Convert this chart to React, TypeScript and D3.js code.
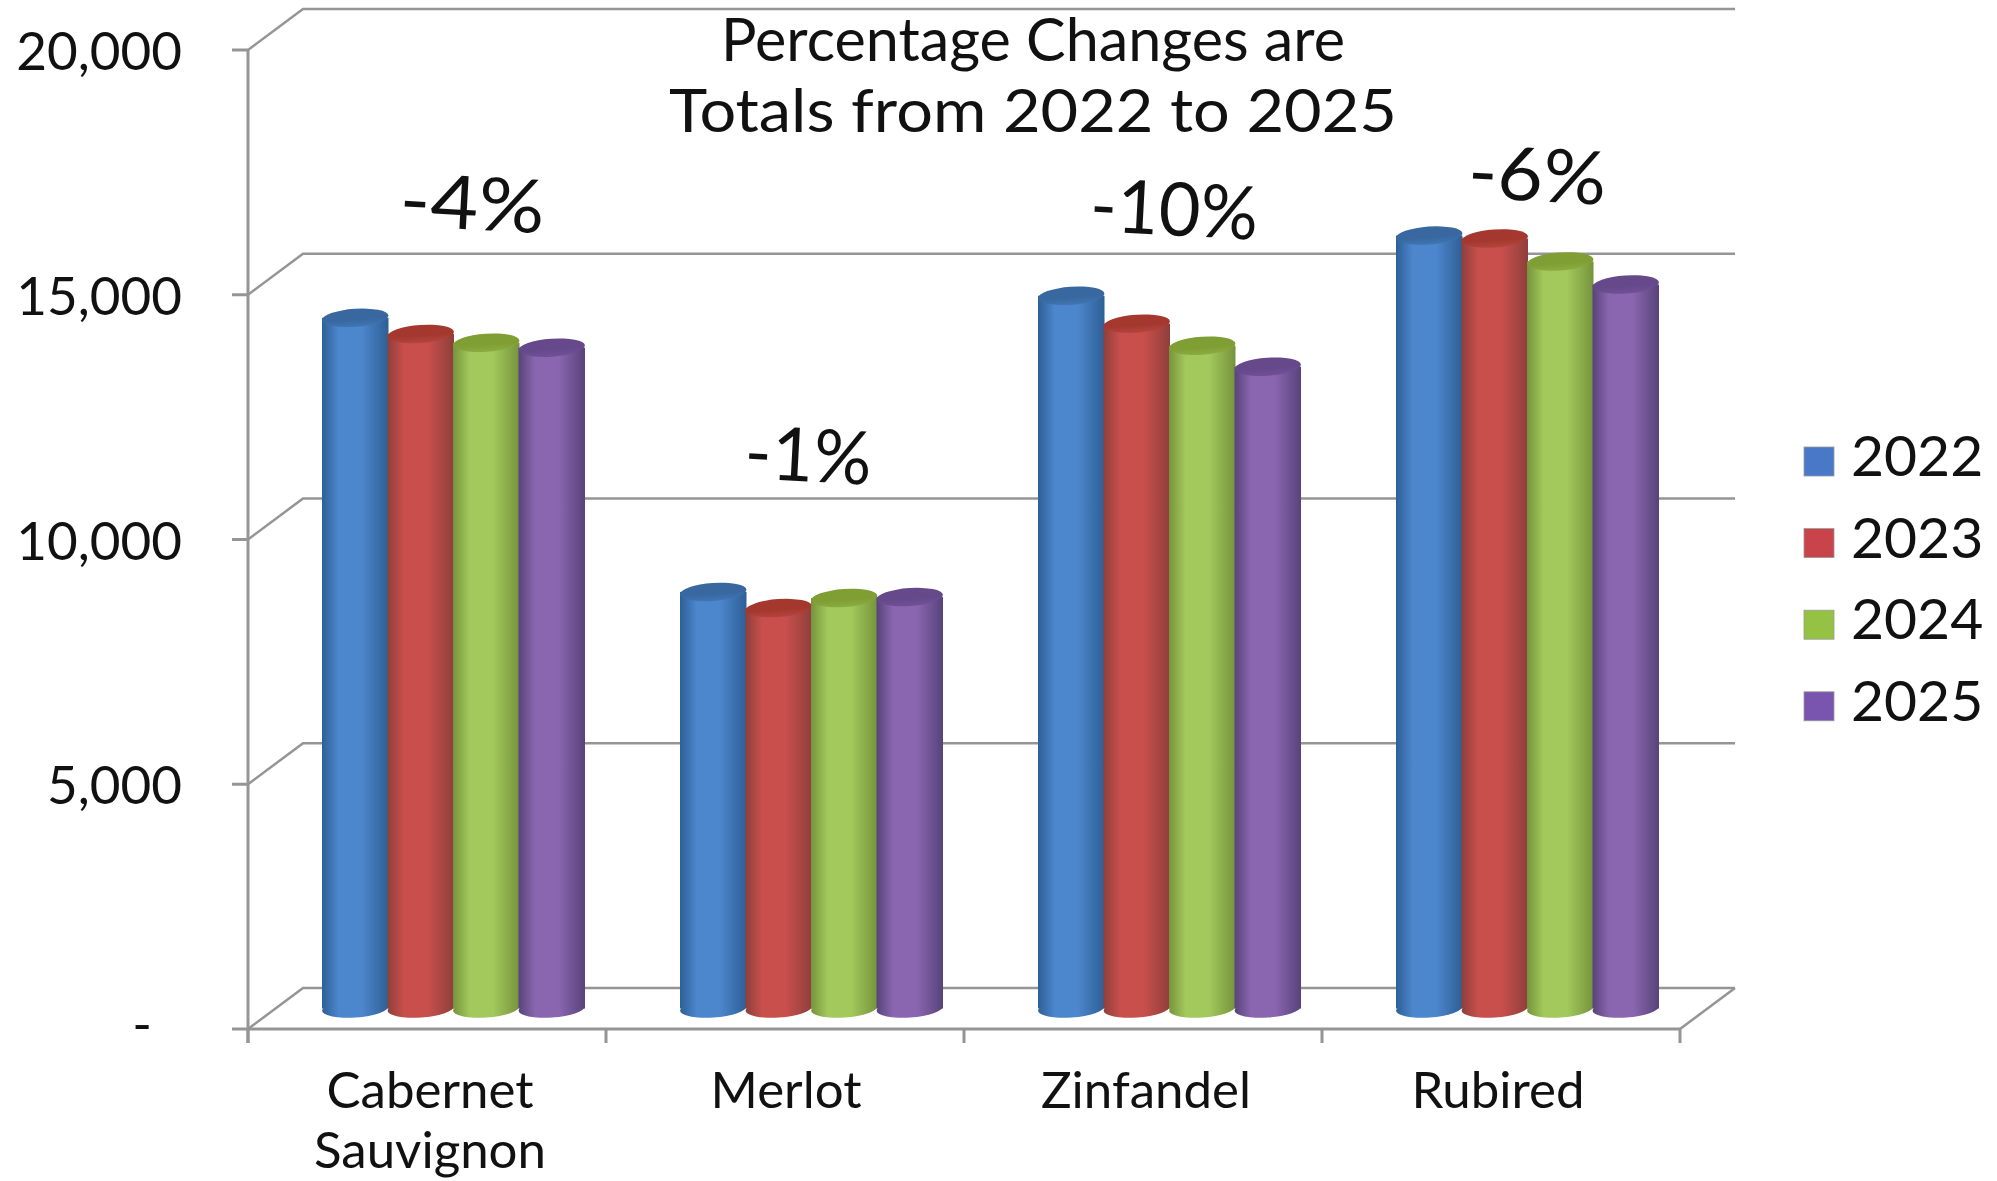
import React from "react";
import * as d3 from "d3";

// Grape varieties and harvest years plotted as grouped cylinders
const categories = ["Cabernet Sauvignon", "Merlot", "Zinfandel", "Rubired"];
const years = ["2022", "2023", "2024", "2025"];
const values2022 = [14110, 8510, 14560, 15790];
const values2023 = [13780, 8180, 13990, 15730];
const values2024 = [13600, 8385, 13540, 15260];
const values2025 = [13500, 8405, 13110, 14790];
const seriesValues = [values2022, values2023, values2024, values2025];
const changeLabels = ["-4%", "-1%", "-10%", "-6%"];
const titleLines = ["Percentage Changes are", "Totals from 2022 to 2025"];
const yTicks = [0, 5000, 10000, 15000, 20000];

// Shades per year: edge of the cylinder, its lit middle, the top cap, the legend swatch
const edgeColors = ["#2e5f96", "#8e3f3b", "#76933c", "#57437a"];
const midColors = ["#4c86cc", "#c94f4c", "#a3c95c", "#8b66b0"];
const capColors = ["#38689f", "#a4382f", "#7f9e34", "#66498b"];
const capLowColors = ["#3f76b4", "#b5453d", "#8cac42", "#714f98"];
const swatchColors = ["#4a78c8", "#c8444a", "#96c244", "#7a55b0"];

const width = 1997;
const height = 1181;
const depthX = 55;
const depthY = 41;
const axisColor = "#959595";
const font = "Lato, 'Open Sans', sans-serif";
const ink = "#111";

const y = d3.scaleLinear().domain([0, 20000]).range([1029, 50]);
const x = d3.scaleBand().domain(categories).range([248, 1680]);
const inner = d3.scaleBand().domain(years).range([-131, 131]);
const tickFormat = (v: number) => (v === 0 ? "-" : d3.format(",")(v));

const ry = 9;
const tilt = -4;

function Cylinder({ cx, top, base, w, i }: { cx: number; top: number; base: number; w: number; i: number }) {
  const rx = w / 2;
  return (
    <g>
      <ellipse cx={cx} cy={base} rx={rx} ry={ry} fill={`url(#side${i})`} transform={`rotate(${tilt} ${cx} ${base})`} />
      <rect x={cx - rx} y={top} width={w} height={base - top} fill={`url(#side${i})`} />
      <ellipse cx={cx} cy={top} rx={rx} ry={ry} fill={`url(#cap${i})`} transform={`rotate(${tilt} ${cx} ${top})`} />
    </g>
  );
}

export default function App() {
  const step = x.step();
  const barW = inner.bandwidth() + 1;
  const floorMid = { dx: depthX / 2 - 1, dy: -depthY / 2 };
  return (
    <svg
      width={width}
      height={height}
      viewBox={`0 0 ${width} ${height}`}
      style={{ position: "absolute", left: 0, top: 0, background: "#fff" }}
    >
      <defs>
        {years.map((yr, i) => (
          <linearGradient key={yr} id={`side${i}`} x1="0" x2="1" y1="0" y2="0">
            <stop offset="0" stopColor={edgeColors[i]} />
            <stop offset="0.25" stopColor={midColors[i]} />
            <stop offset="0.6" stopColor={midColors[i]} />
            <stop offset="1" stopColor={edgeColors[i]} />
          </linearGradient>
        ))}
        {years.map((yr, i) => (
          <linearGradient key={yr} id={`cap${i}`} x1="0" x2="0" y1="0" y2="1">
            <stop offset="0" stopColor={capColors[i]} />
            <stop offset="0.6" stopColor={capColors[i]} />
            <stop offset="1" stopColor={capLowColors[i]} />
          </linearGradient>
        ))}
      </defs>

      {/* Back wall gridlines, each joined to the value axis by a depth segment */}
      {yTicks.map((t) => (
        <g key={t} fill="none" stroke={axisColor} strokeWidth={2.5}>
          <polyline
            points={`${x.range()[0]},${y(t)} ${x.range()[0] + depthX},${y(t) - depthY} ${x.range()[1] + depthX},${y(t) - depthY}`}
          />
          <line x1={x.range()[0] - 16} x2={x.range()[0]} y1={y(t)} y2={y(t)} strokeWidth={3} />
        </g>
      ))}
      <line x1={x.range()[1]} y1={y(0)} x2={x.range()[1] + depthX} y2={y(0) - depthY} stroke={axisColor} strokeWidth={2.5} />

      {/* Front axes */}
      <line x1={248} x2={248} y1={y(20000)} y2={1043} stroke={axisColor} strokeWidth={3} />
      <line x1={x.range()[0]} x2={x.range()[1]} y1={y(0)} y2={y(0)} stroke={axisColor} strokeWidth={3} />
      {[...categories.map((c) => x(c) as number), x.range()[1]].map((px) => (
        <line key={px} x1={px} x2={px} y1={y(0)} y2={1043} stroke={axisColor} strokeWidth={3} />
      ))}

      {/* Cylinders, drawn left to right so each one overlaps its neighbour */}
      {categories.map((c, ci) =>
        years.map((yr, si) => {
          const cx = (x(c) as number) + step / 2 + floorMid.dx + (inner(yr) as number) + inner.bandwidth() / 2;
          return (
            <Cylinder
              key={c + yr}
              cx={cx}
              top={y(seriesValues[si][ci]) + floorMid.dy}
              base={y(0) + floorMid.dy}
              w={barW}
              i={si}
            />
          );
        })
      )}

      {/* Value axis labels */}
      {yTicks.map((t) => (
        <text
          key={t}
          x={t === 0 ? 152 : 182}
          y={t === 0 ? y(t) + 14 : y(t) + 20}
          textAnchor="end"
          fontFamily={font}
          fontSize={53}
          fill={ink}
        >
          {tickFormat(t)}
        </text>
      ))}

      {/* Category labels, wrapped to two lines where needed */}
      {categories.map((c, ci) => {
        const cx = (x(c) as number) + step / 2 + 3 + [0, -2, 0, -6][ci];
        return c.split(" ").map((word, k) => (
          <text key={word} x={cx} y={1108 + k * 60} textAnchor="middle" fontFamily={font} fontSize={51} fill={ink}>
            {word}
          </text>
        ));
      })}

      {/* Heading */}
      {titleLines.map((line, k) => (
        <text
          key={line}
          x={1033}
          y={61 + k * 71}
          textAnchor="middle"
          fontFamily={font}
          fontSize={60}
          fill={ink}
          textLength={[624, 728][k]}
          lengthAdjust="spacingAndGlyphs"
        >
          {line}
        </text>
      ))}

      {/* Percentage change above each group */}
      {categories.map((c, ci) => {
        const cx = (x(c) as number) + step / 2 + [44, 22, 30, 35][ci];
        const base = y(d3.max(seriesValues, (s) => s[ci]) as number) - [109, 131, 81, 55][ci];
        return (
          <text
            key={c}
            x={cx}
            y={base}
            textAnchor="middle"
            fontFamily={font}
            fontSize={74}
            fill={ink}
            textLength={[145, 127, 168, 138][ci]}
            lengthAdjust="spacingAndGlyphs"
            transform={`rotate(3 ${cx} ${base})`}
          >
            {changeLabels[ci]}
          </text>
        );
      })}

      {/* Legend */}
      {years.map((yr, i) => {
        const top = 447 + i * 81.6;
        return (
          <g key={yr}>
            <rect x={1804} y={top} width={30} height={29} fill={swatchColors[i]} stroke="#999" strokeWidth={0.8} />
            <text x={1851} y={top + 29} fontFamily={font} fontSize={57} fill={ink}>
              {yr}
            </text>
          </g>
        );
      })}
    </svg>
  );
}
